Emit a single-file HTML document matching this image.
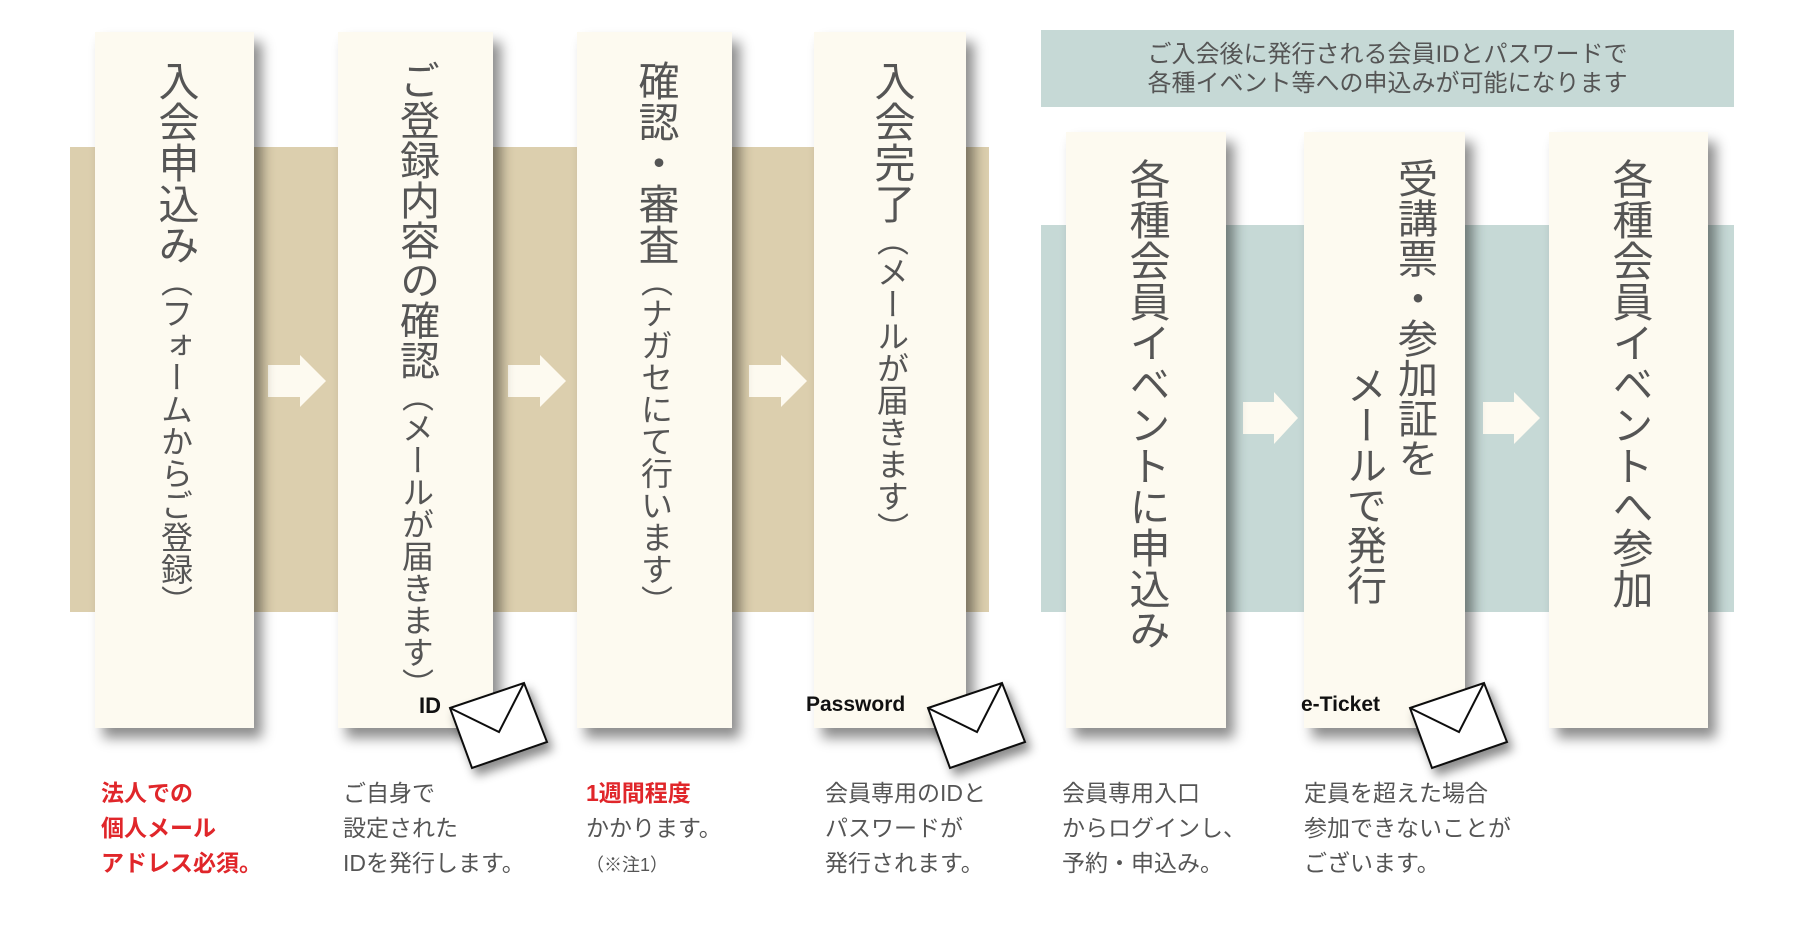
<!DOCTYPE html>
<html><head><meta charset="utf-8"><style>
body{margin:0;width:1800px;height:930px;background:#fff;position:relative;overflow:hidden;font-family:"Liberation Sans","Noto Sans CJK JP",sans-serif;color:#555}
.a{position:absolute}
.col{position:absolute;background:#fdfaf0;box-shadow:8px 10px 12px rgba(0,0,0,.45)}
.v{position:absolute;writing-mode:vertical-rl;white-space:nowrap;color:#555}
.m{font-size:41px;line-height:46px}
.s{font-size:32px}
.note{position:absolute;font-size:23px;line-height:35px;color:#555;white-space:nowrap}
.red{color:#e0262a;font-weight:bold}
.lbl{position:absolute;font-size:22px;font-weight:bold;color:#111}
</style></head><body>
<div class="a" style="left:70px;top:147px;width:919px;height:465px;background:#dccfae"></div>
<div class="a" style="left:1041px;top:225px;width:693px;height:387px;background:#c6d9d6"></div>
<div class="a" style="left:1041px;top:30px;width:693px;height:77px;background:#c6d9d6"></div>
<div class="a" style="left:1041px;top:40px;width:693px;text-align:center;font-size:24px;line-height:29px;color:#555">ご入会後に発行される会員IDとパスワードで<br>各種イベント等への申込みが可能になります</div>

<svg class="a" style="left:0;top:0" width="1800" height="930">
<g fill="#fdfaf0">
<polygon points="268,365 300,365 300,355 326,381 300,407 300,397 268,397"/>
<polygon points="508,365 540,365 540,355 566,381 540,407 540,397 508,397"/>
<polygon points="749,365 781,365 781,355 807,381 781,407 781,397 749,397"/>
<polygon points="1243,402 1274,402 1274,392 1298,418 1274,444 1274,434 1243,434"/>
<polygon points="1483,402 1514,402 1514,392 1540,418 1514,444 1514,434 1483,434"/>
</g>
</svg>

<div class="col" style="left:95px;top:32px;width:159px;height:696px"></div>
<div class="col" style="left:338px;top:32px;width:155px;height:696px"></div>
<div class="col" style="left:577px;top:32px;width:155px;height:696px"></div>
<div class="col" style="left:814px;top:32px;width:152px;height:696px"></div>
<div class="col" style="left:1066px;top:132px;width:160px;height:596px"></div>
<div class="col" style="left:1304px;top:132px;width:161px;height:596px"></div>
<div class="col" style="left:1549px;top:132px;width:159px;height:596px"></div>

<div class="v" style="left:152px;top:60px"><span class="m">入会申込み</span><span class="s">（フォームからご登録）</span></div>
<div class="v" style="left:393px;top:60px"><span class="m" style="font-size:40px">ご登録内容の確認</span><span class="s">（メールが届きます）</span></div>
<div class="v" style="left:632px;top:60px"><span class="m">確認・審査</span><span class="s">（ナガセにて行います）</span></div>
<div class="v" style="left:868px;top:60px"><span class="m">入会完了</span><span class="s">（メールが届きます）</span></div>
<div class="v m" style="left:1123px;top:158px">各種会員イベントに申込み</div>
<div class="v m" style="left:1391px;top:158px;font-size:40px">受講票・参加証を</div>
<div class="v m" style="left:1340px;top:365px;font-size:40px">メールで発行</div>
<div class="v m" style="left:1606px;top:158px">各種会員イベントへ参加</div>

<svg class="a" style="left:0;top:0" width="1800" height="930">
<defs><filter id="sh" x="-30%" y="-30%" width="160%" height="160%"><feDropShadow dx="5" dy="7" stdDeviation="5" flood-opacity=".45"/></filter></defs>
<g id="env" filter="url(#sh)"><polygon points="450,708 524,683 547,742 472,768" fill="#fff" stroke="#111" stroke-width="2"/><polyline points="450,708 499,732 524,683" fill="none" stroke="#111" stroke-width="2"/></g>
<use href="#env" x="478"/>
<use href="#env" x="960"/>
</svg>
<div class="lbl" style="left:419px;top:693px">ID</div>
<div class="lbl" style="left:806px;top:693px;font-size:21px">Password</div>
<div class="lbl" style="left:1301px;top:693px;font-size:21px">e-Ticket</div>

<div class="note red" style="left:101px;top:776px">法人での<br>個人メール<br>アドレス必須。</div>
<div class="note" style="left:343px;top:776px">ご自身で<br>設定された<br>IDを発行します。</div>
<div class="note" style="left:586px;top:776px"><span class="red">1週間程度</span><br>かかります。<br><span style="font-size:18px">（※注1）</span></div>
<div class="note" style="left:825px;top:776px">会員専用のIDと<br>パスワードが<br>発行されます。</div>
<div class="note" style="left:1062px;top:776px">会員専用入口<br>からログインし、<br>予約・申込み。</div>
<div class="note" style="left:1304px;top:776px">定員を超えた場合<br>参加できないことが<br>ございます。</div>
</body></html>
